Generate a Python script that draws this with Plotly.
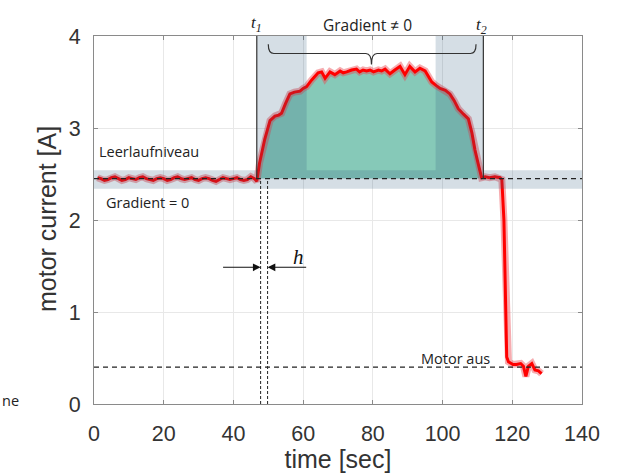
import plotly.graph_objects as go

# ---------------- data ----------------
time_s = [
    1, 2, 3, 4, 5, 6, 7, 8, 9, 10, 11, 12, 13, 14, 15, 16, 17, 18, 19, 20,
    21, 22, 23, 24, 25, 26, 27, 28, 29, 30, 31, 32, 33, 34, 35, 36, 37, 38, 39, 40,
    41, 42, 43, 44, 45, 46, 46.7,
    47.5, 49.0, 50.5, 51.9, 53.0, 53.8, 55.0, 56.2, 57.5, 59.1, 60.0, 61.0, 62.4, 63.4,
    64.3, 65.3, 66.3, 67.7, 69.1, 70.6, 71.5, 72.5, 73.9, 75.3, 76.2, 77.2, 78.2, 79.2,
    80.2, 81.6, 82.5, 83.5, 84.9, 86.3, 87.8, 89.2, 90.6, 92.1, 93.5, 95.0, 96.0, 96.9,
    98.2, 99.3, 100.8, 102.1, 103.3, 104.5, 106.0, 107.4, 108.4, 109.3, 110.3, 111.2,
    112.2, 113.5, 115.0, 116.5, 117.0, 117.6, 118.4, 118.9, 120.2, 121.2, 122.4, 123.2,
    123.9, 124.6, 125.6, 126.5, 127.5, 128.4,
]
current_a = [
    2.46, 2.45, 2.43, 2.44, 2.46, 2.47, 2.45, 2.43, 2.44, 2.46, 2.45, 2.44, 2.46, 2.47,
    2.45, 2.44, 2.43, 2.45, 2.46, 2.45, 2.43, 2.44, 2.46, 2.47, 2.45, 2.44, 2.45, 2.46,
    2.44, 2.43, 2.45, 2.46, 2.45, 2.43, 2.42, 2.44, 2.46, 2.45, 2.44, 2.45, 2.46, 2.44,
    2.43, 2.44, 2.47, 2.45, 2.42,
    2.62, 2.88, 3.08, 3.13, 3.14, 3.16, 3.27, 3.37, 3.39, 3.40, 3.43, 3.45, 3.52, 3.56,
    3.60, 3.61, 3.54, 3.61, 3.58, 3.62, 3.60, 3.61, 3.63, 3.64, 3.61, 3.63, 3.62, 3.63,
    3.61, 3.63, 3.62, 3.64, 3.59, 3.63, 3.67, 3.58, 3.67, 3.61, 3.65, 3.62, 3.56, 3.50,
    3.46, 3.43, 3.41, 3.37, 3.30, 3.21, 3.15, 3.10, 2.95, 2.76, 2.60, 2.46,
    2.47, 2.46, 2.47, 2.46, 2.44, 2.00, 0.51, 0.46, 0.43, 0.43, 0.44, 0.41,
    0.30, 0.41, 0.44, 0.37, 0.36, 0.33,
]

x_ticks = [0, 20, 40, 60, 80, 100, 120, 140]
y_ticks = [0, 1, 2, 3, 4]

IDLE_LEVEL = 2.45      # Leerlaufniveau
IDLE_BAND = (2.34, 2.54)
OFF_LEVEL = 0.40       # Motor aus
T1, T2 = 46.7, 111.7
H_LEFT, H_RIGHT = 47.8, 49.8
CORE_LEFT, CORE_RIGHT = 61.0, 98.0

# ---------------- figure ----------------
seg_t = [t for t in time_s if T1 <= t <= T2]
seg_i = [c for t, c in zip(time_s, current_a) if T1 <= t <= T2]

fig = go.Figure()
fig.add_trace(go.Scatter(x=seg_t, y=[IDLE_LEVEL] * len(seg_t), mode="lines",
                         line=dict(width=0), hoverinfo="skip", showlegend=False))
fig.add_trace(go.Scatter(x=seg_t, y=seg_i, mode="lines", fill="tonexty",
                         fillcolor="rgb(134,201,184)", line=dict(width=0),
                         hoverinfo="skip", showlegend=False))
fig.add_trace(go.Scatter(x=time_s, y=current_a, mode="lines",
                         line=dict(color="rgba(235,70,80,0.45)", width=7),
                         showlegend=False, hoverinfo="skip"))
fig.add_trace(go.Scatter(x=time_s, y=current_a, mode="lines",
                         line=dict(color="rgb(255,0,0)", width=3),
                         showlegend=False))

overlay = "rgba(45,90,125,0.2)"
shapes = [
    dict(type="rect", xref="x", yref="y", x0=0, x1=140, y0=IDLE_BAND[0], y1=IDLE_BAND[1],
         fillcolor=overlay, line=dict(width=0), layer="above"),
    dict(type="rect", xref="x", yref="y", x0=T1, x1=CORE_LEFT, y0=IDLE_BAND[1], y1=4,
         fillcolor=overlay, line=dict(width=0), layer="above"),
    dict(type="rect", xref="x", yref="y", x0=CORE_RIGHT, x1=T2, y0=IDLE_BAND[1], y1=4,
         fillcolor=overlay, line=dict(width=0), layer="above"),
    dict(type="line", xref="x", yref="y", x0=0, x1=140, y0=IDLE_LEVEL, y1=IDLE_LEVEL,
         line=dict(color="#222", width=1.3, dash="5px,4px"), layer="above"),
    dict(type="line", xref="x", yref="y", x0=0, x1=140, y0=OFF_LEVEL, y1=OFF_LEVEL,
         line=dict(color="#222", width=1.3, dash="5px,4px"), layer="above"),
    dict(type="line", xref="x", yref="y", x0=T1, x1=T1, y0=IDLE_LEVEL, y1=4,
         line=dict(color="#333", width=1.2), layer="above"),
    dict(type="line", xref="x", yref="y", x0=T2, x1=T2, y0=IDLE_LEVEL, y1=4,
         line=dict(color="#333", width=1.2), layer="above"),
    dict(type="line", xref="x", yref="y", x0=H_LEFT, x1=H_LEFT, y0=0, y1=IDLE_LEVEL,
         line=dict(color="#222", width=1, dash="3px,2px"), layer="above"),
    dict(type="line", xref="x", yref="y", x0=H_RIGHT, x1=H_RIGHT, y0=0, y1=IDLE_LEVEL,
         line=dict(color="#222", width=1, dash="3px,2px"), layer="above"),
    dict(type="path", xref="x", yref="y",
         path="M 50,3.91 Q 50,3.81 51.6,3.81 L 78,3.81 Q 79.6,3.81 79.6,3.69 "
              "Q 79.6,3.81 81.2,3.81 L 108,3.81 Q 109.6,3.81 109.6,3.91",
         line=dict(color="#333", width=1.2), layer="above"),
]

sans = "Liberation Sans, Arial, sans-serif"
txt_font = dict(family="Open Sans, sans-serif", size=14.5, color="#222")
serif = "Liberation Serif, serif"
annotations = [
    dict(x=0.9, y=2.74, text="Leerlaufniveau", xanchor="left", yanchor="middle",
         showarrow=False, font=txt_font),
    dict(x=2.9, y=2.185, text="Gradient = 0", xanchor="left", yanchor="middle",
         showarrow=False, font=txt_font),
    dict(x=103.8, y=0.50, text="Motor aus", xanchor="center", yanchor="middle",
         showarrow=False, font=txt_font),
    dict(x=78.4, y=(404 - 25) / 368, yref="paper", text="Gradient ≠ 0",
         xanchor="center", yanchor="middle", showarrow=False,
         font=dict(family="Open Sans, sans-serif", size=15.5, color="#222")),
    dict(x=T1, y=(404 - 24) / 368, yref="paper", text="<i>t</i><sub><i>1</i></sub>",
         xanchor="center", yanchor="middle", showarrow=False,
         font=dict(family=serif, size=17, color="#222")),
    dict(x=T2 - 0.6, y=(404 - 26) / 368, yref="paper", text="<i>t</i><sub><i>2</i></sub>",
         xanchor="center", yanchor="middle", showarrow=False,
         font=dict(family=serif, size=17, color="#222")),
    dict(x=58.8, y=1.60, text="<i>h</i>", xanchor="center", yanchor="middle",
         showarrow=False, font=dict(family=serif, size=21, color="#111")),
    dict(x=H_LEFT, y=1.486, ax=36.6, ay=1.486, xref="x", yref="y", axref="x", ayref="y",
         text="", showarrow=True, arrowhead=2, arrowsize=1.4, arrowwidth=1.1, arrowcolor="#111"),
    dict(x=H_RIGHT, y=1.486, ax=61.3, ay=1.486, xref="x", yref="y", axref="x", ayref="y",
         text="", showarrow=True, arrowhead=2, arrowsize=1.4, arrowwidth=1.1, arrowcolor="#111"),
    dict(x=-94 / 488, y=(404 - 400) / 368, xref="paper", yref="paper", text="ne",
         xanchor="left", yanchor="middle", showarrow=False, font=txt_font),
    # y-axis title (placed explicitly)
    dict(x=(47 - 94) / 488, y=(404 - 219) / 368, xref="paper", yref="paper",
         text="motor current [A]", textangle=-90, xanchor="center", yanchor="middle",
         showarrow=False, font=dict(family=sans, size=25, color="#333")),
]

axis_common = dict(
    showgrid=True, gridcolor="#e8e8e8", gridwidth=1,
    showline=True, linecolor="#8a8a8a", linewidth=1, mirror="ticks",
    ticks="inside", ticklen=4, tickcolor="#8a8a8a",
    zeroline=False, automargin=False,
    tickfont=dict(family=sans, size=21.5, color="#333"),
)

fig.update_layout(
    width=637, height=473,
    margin=dict(l=94, r=55, t=36, b=69, autoexpand=False),
    paper_bgcolor="white", plot_bgcolor="white",
    showlegend=False,
    shapes=shapes, annotations=annotations,
    xaxis=dict(range=[0, 140], tickvals=x_ticks, ticklabelstandoff=10,
               title=dict(text="time [sec]", standoff=0,
                          font=dict(family=sans, size=25, color="#333")),
               **axis_common),
    yaxis=dict(range=[0, 4], tickvals=y_ticks, ticklabelstandoff=8, **axis_common),
)

fig.write_html("out.html", config={"displayModeBar": False},
               post_script="document.body.style.margin='0';")
